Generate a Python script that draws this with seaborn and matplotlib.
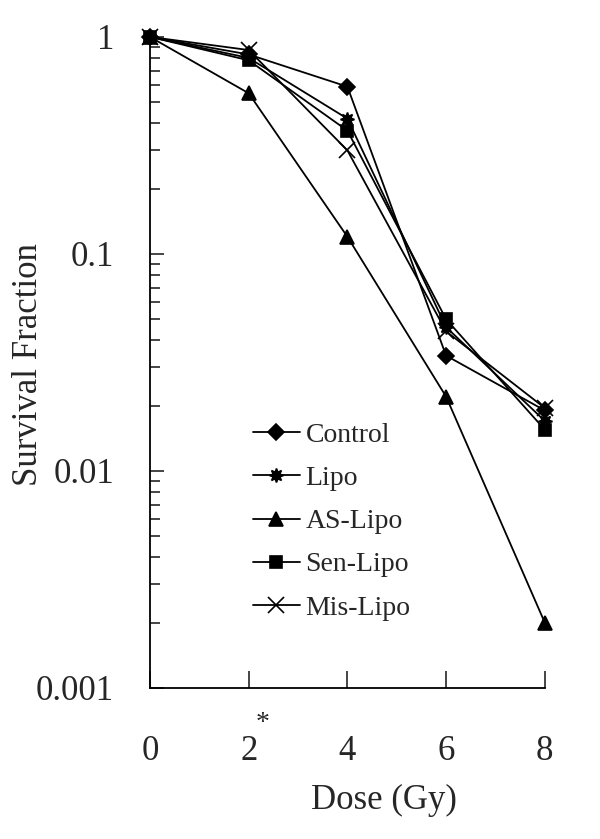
import pandas as pd
import matplotlib
matplotlib.use("Agg")
import matplotlib.pyplot as plt
import matplotlib.ticker as mticker
import seaborn as sns
import numpy as np

dose = [0, 2, 4, 6, 8]
control = [1.0, 0.83, 0.59, 0.034, 0.019]
lipo = [1.0, 0.80, 0.42, 0.046, 0.017]
as_lipo = [1.0, 0.55, 0.12, 0.022, 0.002]
sen_lipo = [1.0, 0.78, 0.37, 0.050, 0.0155]
mis_lipo = [1.0, 0.87, 0.30, 0.044, 0.0195]
groups = ["Control", "Lipo", "AS-Lipo", "Sen-Lipo", "Mis-Lipo"]
markers = ["D", (8, 1, 0), "^", "s", "x"]
msizes = [8, 10, 10, 9, 12]

series = [control, lipo, as_lipo, sen_lipo, mis_lipo]

sns.set_style("ticks")
plt.rcParams["font.family"] = ["Liberation Serif", "DejaVu Serif"]

fig = plt.figure(figsize=(6, 8.39), dpi=100)
ax = fig.add_axes([0.25, 0.18, 0.658, 0.776])

# one call per group: seaborn won't mix filled and line-art markers
for g, s, m, ms in zip(groups, series, markers, msizes):
    sns.lineplot(x=dose, y=s, label=g, color="black", marker=m, markersize=ms,
                 linewidth=1.3, mec="black", mfc="black", mew=1.2, ax=ax)

for ln in ax.lines:
    ln.set_clip_on(False)

ax.set_yscale("log")
ax.set_ylim(0.001, 1)
ax.set_xlim(0, 8)
ax.set_xticks([0, 2, 4, 6, 8])
ax.set_yticks([0.001, 0.01, 0.1, 1])
ax.yaxis.set_major_formatter(mticker.FuncFormatter(lambda v, p: f"{v:g}"))
ax.yaxis.set_minor_locator(mticker.LogLocator(base=10, subs=np.arange(2, 10)))
ax.yaxis.set_minor_formatter(mticker.NullFormatter())

ax.tick_params(axis="x", direction="in", length=12, width=1.2, pad=34, labelsize=25)
ax.tick_params(axis="y", which="major", direction="in", length=10, width=1.2, pad=26, labelsize=25)
ax.tick_params(axis="y", which="minor", direction="in", length=7, width=1.2)
for sp in ["left", "bottom"]:
    ax.spines[sp].set_linewidth(1.3)
    ax.spines[sp].set_color("black")
sns.despine(ax=ax)

ax.set_xlabel("Dose (Gy)", fontsize=25)
ax.set_ylabel("Survival Fraction", fontsize=25)
ax.xaxis.set_label_coords(0.593, -0.147)
ax.yaxis.set_label_coords(-0.265, 0.496)

ax.text(0.286, -0.055, "*", fontsize=20, ha="center", va="center", transform=ax.transAxes)

leg = ax.legend(loc="upper left", bbox_to_anchor=(0.26, 0.408), frameon=False,
                fontsize=20, handlelength=1.7, handletextpad=0.2, labelspacing=0.64,
                borderaxespad=0, borderpad=0)

fig.savefig("out.png", dpi=100)
